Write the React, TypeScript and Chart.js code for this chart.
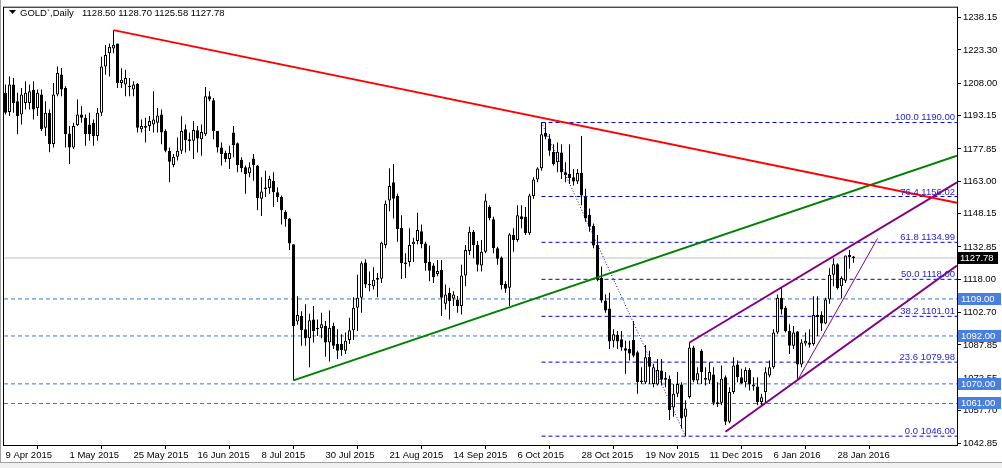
import React, { useEffect, useRef } from 'react';
import { Chart, registerables } from 'chart.js';
Chart.register(...registerables);

// ---- OHLC data (daily bars, 9 Apr 2015 .. 3 Feb 2016) ----
const opens = [
  1203.6, 1194.8, 1207.4, 1199.8, 1193.7, 1199.0, 1199.0, 1205.0, 1196.7, 1202.8,
  1187.6, 1194.5, 1180.1, 1202.8, 1212.0, 1205.8, 1185.0, 1178.5, 1188.7, 1193.7,
  1192.2, 1189.1, 1189.9, 1183.8, 1194.5, 1215.7, 1221.8, 1224.0, 1226.3, 1208.1,
  1207.4, 1206.9, 1205.1, 1207.8, 1186.9, 1187.6, 1188.4, 1189.1, 1189.9, 1193.7,
  1186.1, 1177.0, 1170.5, 1174.3, 1177.0, 1186.9, 1182.3, 1181.6, 1186.4, 1182.3,
  1184.6, 1202.0, 1200.2, 1186.1, 1178.5, 1176.0, 1173.2, 1185.4, 1180.5, 1172.9,
  1169.4, 1166.7, 1173.5, 1170.2, 1155.0, 1159.5, 1159.9, 1163.3, 1158.0, 1155.8,
  1149.0, 1145.9, 1134.1, 1098.6, 1101.2, 1095.1, 1091.0, 1099.6, 1095.8, 1095.5,
  1096.6, 1089.0, 1096.6, 1088.3, 1088.3, 1085.2, 1090.1, 1094.6, 1104.9, 1109.5,
  1125.7, 1115.9, 1114.8, 1118.6, 1118.3, 1133.8, 1154.2, 1162.6, 1156.2, 1141.7,
  1125.7, 1125.9, 1134.1, 1135.6, 1140.1, 1134.5, 1125.9, 1124.4, 1120.5, 1122.4,
  1106.8, 1111.8, 1109.2, 1108.7, 1105.7, 1119.8, 1131.0, 1139.8, 1133.8, 1124.4,
  1130.7, 1151.2, 1145.6, 1132.3, 1128.0, 1115.9, 1114.1, 1138.3, 1136.0, 1147.0,
  1146.7, 1139.1, 1156.2, 1163.8, 1169.0, 1185.3, 1182.6, 1176.6, 1171.7, 1176.2,
  1167.1, 1166.4, 1164.9, 1162.9, 1166.8, 1155.8, 1147.7, 1142.6, 1133.8, 1118.6,
  1108.3, 1104.6, 1089.8, 1092.5, 1090.5, 1086.4, 1086.0, 1090.1, 1084.5, 1071.6,
  1070.8, 1082.5, 1070.0, 1069.7, 1076.1, 1072.8, 1072.3, 1059.1, 1065.5, 1069.7,
  1054.9, 1064.0, 1086.7, 1071.6, 1085.2, 1072.8, 1071.6, 1074.3, 1061.6, 1061.3,
  1073.1, 1052.6, 1066.3, 1078.9, 1073.1, 1070.8, 1076.4, 1069.7, 1068.8, 1061.7,
  1066.3, 1073.8, 1077.6, 1093.6, 1109.5, 1104.9, 1094.3, 1087.5, 1094.0, 1078.9,
  1088.5, 1089.0, 1088.3, 1101.6, 1101.6, 1097.7, 1108.7, 1120.1, 1124.9, 1114.8,
  1117.4, 1128.2, 1128.5,
];
const highs = [
  1207.4, 1211.1, 1210.4, 1203.6, 1205.8, 1208.9, 1207.4, 1208.9, 1205.1, 1205.1,
  1199.8, 1196.0, 1208.1, 1215.7, 1215.0, 1206.6, 1188.4, 1189.9, 1200.6, 1197.5,
  1193.7, 1194.5, 1191.4, 1196.7, 1220.2, 1225.6, 1226.3, 1232.4, 1226.3, 1214.9,
  1214.2, 1210.4, 1208.9, 1208.1, 1191.4, 1192.2, 1193.0, 1204.3, 1196.7, 1196.0,
  1186.9, 1178.5, 1175.5, 1183.1, 1192.9, 1189.1, 1185.4, 1190.7, 1188.4, 1189.1,
  1206.3, 1204.3, 1201.3, 1186.1, 1180.8, 1177.0, 1179.3, 1188.4, 1180.8, 1174.0,
  1170.2, 1171.7, 1175.5, 1170.5, 1164.9, 1167.9, 1165.6, 1167.1, 1160.3, 1156.5,
  1149.7, 1146.2, 1134.1, 1110.2, 1103.4, 1106.5, 1102.2, 1105.7, 1099.6, 1102.7,
  1098.9, 1103.7, 1098.1, 1095.1, 1092.8, 1093.6, 1100.4, 1109.8, 1120.1, 1126.2,
  1127.2, 1121.6, 1123.5, 1120.9, 1135.3, 1154.2, 1169.0, 1170.9, 1157.3, 1147.4,
  1130.0, 1141.4, 1137.1, 1148.6, 1143.2, 1135.3, 1133.5, 1125.4, 1126.9, 1126.9,
  1115.6, 1114.1, 1112.5, 1110.3, 1124.7, 1133.8, 1142.1, 1140.6, 1135.6, 1136.0,
  1157.3, 1152.0, 1146.7, 1133.0, 1128.5, 1117.1, 1139.1, 1141.4, 1152.0, 1152.0,
  1151.2, 1157.3, 1164.9, 1169.4, 1190.0, 1189.9, 1184.6, 1180.0, 1180.8, 1180.0,
  1171.7, 1180.0, 1168.7, 1168.7, 1183.8, 1159.6, 1150.5, 1143.6, 1138.3, 1123.9,
  1111.0, 1111.8, 1095.1, 1094.3, 1094.3, 1089.8, 1089.8, 1098.9, 1085.2, 1077.6,
  1087.9, 1085.2, 1079.2, 1081.4, 1081.4, 1075.4, 1073.8, 1070.0, 1075.4, 1070.8,
  1062.5, 1089.0, 1087.5, 1077.6, 1085.9, 1077.6, 1079.9, 1077.6, 1070.8, 1078.4,
  1073.8, 1068.5, 1082.2, 1080.7, 1076.9, 1077.6, 1077.3, 1073.1, 1073.1, 1065.5,
  1077.6, 1080.7, 1095.1, 1111.0, 1114.1, 1105.7, 1097.4, 1096.6, 1094.3, 1090.5,
  1093.6, 1095.1, 1110.2, 1110.2, 1103.4, 1109.5, 1123.1, 1127.7, 1125.4, 1119.4,
  1128.9, 1131.5, 1128.7,
];
const lows = [
  1193.7, 1193.0, 1194.5, 1184.6, 1189.1, 1196.0, 1196.0, 1191.4, 1193.0, 1186.1,
  1183.8, 1176.3, 1178.5, 1202.1, 1202.1, 1178.5, 1171.0, 1177.8, 1188.4, 1189.9,
  1179.3, 1181.6, 1179.3, 1181.6, 1193.0, 1211.9, 1211.1, 1221.8, 1205.8, 1205.8,
  1202.1, 1202.1, 1202.1, 1185.4, 1185.4, 1180.8, 1186.1, 1185.4, 1185.4, 1180.0,
  1176.3, 1162.6, 1169.4, 1172.5, 1175.5, 1176.2, 1177.0, 1173.2, 1176.2, 1174.7,
  1183.8, 1199.8, 1182.3, 1176.2, 1170.2, 1171.7, 1168.7, 1174.0, 1167.1, 1167.1,
  1157.3, 1164.9, 1163.3, 1149.7, 1147.1, 1155.8, 1157.3, 1151.2, 1153.5, 1143.2,
  1142.1, 1131.5, 1071.6, 1097.1, 1087.5, 1087.5, 1077.6, 1089.0, 1092.0, 1091.0,
  1082.5, 1080.3, 1086.0, 1081.4, 1082.9, 1083.7, 1088.3, 1090.1, 1094.3, 1102.7,
  1114.0, 1112.5, 1113.3, 1109.8, 1116.3, 1132.3, 1149.2, 1145.9, 1135.3, 1118.3,
  1118.6, 1123.9, 1125.9, 1134.1, 1132.3, 1121.9, 1117.1, 1116.3, 1119.4, 1101.2,
  1104.2, 1099.6, 1105.7, 1102.7, 1101.9, 1114.8, 1129.2, 1127.7, 1121.6, 1121.6,
  1130.0, 1145.1, 1130.0, 1124.7, 1113.3, 1111.8, 1105.7, 1130.7, 1135.3, 1141.4,
  1138.3, 1138.3, 1155.0, 1162.6, 1167.9, 1182.3, 1174.7, 1170.2, 1167.1, 1164.1,
  1162.6, 1161.8, 1161.1, 1161.8, 1152.0, 1144.4, 1139.8, 1132.3, 1117.1, 1107.2,
  1102.7, 1086.0, 1086.7, 1086.0, 1085.2, 1074.6, 1080.7, 1082.2, 1065.5, 1070.0,
  1070.0, 1070.0, 1068.5, 1069.3, 1069.3, 1068.5, 1053.4, 1054.9, 1064.0, 1049.6,
  1046.0, 1063.3, 1070.8, 1070.0, 1070.0, 1069.3, 1070.0, 1060.2, 1059.4, 1060.2,
  1051.1, 1051.9, 1065.5, 1070.8, 1070.0, 1068.5, 1067.0, 1067.0, 1060.2, 1059.4,
  1061.7, 1073.1, 1076.9, 1092.8, 1101.9, 1093.6, 1083.7, 1086.0, 1072.3, 1077.6,
  1087.5, 1086.7, 1087.5, 1092.0, 1094.3, 1097.4, 1106.8, 1114.8, 1113.3, 1109.2,
  1116.3, 1122.8, 1125.58,
];
const closes = [
  1194.5, 1207.4, 1199.0, 1193.0, 1202.8, 1203.6, 1204.3, 1196.0, 1203.6, 1186.9,
  1194.5, 1180.1, 1202.8, 1212.7, 1205.1, 1184.6, 1178.5, 1188.4, 1193.7, 1192.2,
  1184.6, 1184.6, 1183.8, 1194.5, 1215.7, 1221.0, 1224.8, 1225.6, 1208.1, 1209.6,
  1210.4, 1206.3, 1207.4, 1187.6, 1188.4, 1188.4, 1190.7, 1191.4, 1193.2, 1185.4,
  1177.0, 1172.0, 1174.3, 1177.0, 1186.1, 1181.9, 1181.4, 1186.5, 1182.6, 1185.6,
  1202.0, 1200.5, 1186.1, 1178.5, 1175.5, 1173.2, 1176.0, 1179.6, 1170.5, 1169.0,
  1166.4, 1169.4, 1170.5, 1155.3, 1158.3, 1160.1, 1164.1, 1158.0, 1155.8, 1149.7,
  1145.6, 1134.5, 1096.6, 1101.6, 1094.6, 1091.0, 1099.2, 1094.3, 1095.1, 1097.4,
  1089.0, 1095.8, 1087.5, 1085.2, 1085.5, 1089.8, 1094.6, 1104.9, 1109.5, 1125.4,
  1115.6, 1115.3, 1117.8, 1117.8, 1134.8, 1152.7, 1160.8, 1155.0, 1141.1, 1125.4,
  1125.0, 1133.8, 1135.3, 1140.6, 1134.1, 1125.4, 1121.9, 1118.9, 1121.8, 1109.5,
  1111.0, 1108.0, 1111.0, 1105.7, 1119.8, 1131.5, 1139.8, 1133.8, 1124.7, 1130.7,
  1154.2, 1146.2, 1132.3, 1127.4, 1115.3, 1113.7, 1138.6, 1136.0, 1147.4, 1145.6,
  1139.1, 1156.5, 1163.8, 1168.9, 1184.6, 1183.4, 1177.0, 1170.9, 1176.6, 1167.1,
  1165.9, 1164.4, 1162.9, 1166.8, 1156.5, 1145.9, 1142.1, 1133.5, 1117.8, 1108.3,
  1103.7, 1089.5, 1092.8, 1089.5, 1086.7, 1085.2, 1084.0, 1082.9, 1070.8, 1070.8,
  1082.2, 1077.9, 1077.6, 1076.4, 1071.9, 1071.9, 1057.9, 1065.5, 1070.0, 1054.1,
  1058.7, 1086.7, 1071.6, 1074.9, 1075.4, 1071.9, 1075.4, 1061.3, 1060.6, 1072.3,
  1052.6, 1066.3, 1078.4, 1073.1, 1070.3, 1076.4, 1069.7, 1068.8, 1061.7, 1063.9,
  1075.3, 1077.6, 1093.6, 1109.5, 1104.2, 1094.3, 1087.5, 1093.6, 1078.9, 1089.0,
  1089.8, 1088.0, 1101.6, 1100.7, 1097.7, 1108.7, 1120.1, 1124.9, 1114.05, 1118.6,
  1128.9, 1129.2, 1127.78,
];

// ---- axes ----
const xTickIdx = [0, 16, 32, 48, 64, 80, 96, 112, 128, 144, 160, 176, 192, 208];
const xTickLabels = [
  '9 Apr 2015', '1 May 2015', '25 May 2015', '16 Jun 2015', '8 Jul 2015', '30 Jul 2015',
  '21 Aug 2015', '14 Sep 2015', '6 Oct 2015', '28 Oct 2015', '19 Nov 2015', '11 Dec 2015',
  '6 Jan 2016', '28 Jan 2016',
];
const yTickValues = [
  1238.15, 1223.3, 1208.0, 1193.15, 1177.85, 1163.0, 1148.15, 1132.85, 1118.0,
  1102.7, 1087.85, 1072.55, 1057.7, 1042.85,
];
const X_MIN = -0.375;
const X_MAX = 237.875;
const Y_MIN = 1041.94;
const Y_MAX = 1242.7;

// ---- drawn objects ----
const redTrend = [[27, 1232.4], [X_MAX, 1153.1]];
const greenTrend = [[72, 1071.6], [X_MAX, 1174.7]];
const purpleUpper = [[171, 1089.0], [X_MAX, 1162.5]];
const purpleLower = [[180, 1048.0], [X_MAX, 1124.3]];
const purpleThin = [[198, 1071.6], [218, 1136.8]];
const fibDiagonal = [[134, 1190.0], [170, 1046.0]];
const fibStart = 134;
const fibPercents = ['100.0', '76.4', '61.8', '50.0', '38.2', '23.6', '0.0'];
const fibValues = [1190.0, 1156.02, 1134.99, 1118.0, 1101.01, 1079.98, 1046.0];
const hLevels = [1109.0, 1092.0, 1070.0, 1061.0];
const lastPrice = 1127.78;
const titleSymbol = 'GOLD`,Daily';
const titleOHLC = '1128.50 1128.70 1125.58 1127.78';

const FONT = '"Liberation Sans", Arial, sans-serif';

const pts = (arr: number[][]) => arr.map(([x, y]) => ({ x, y }));

export default function App() {
  const ref = useRef<HTMLCanvasElement>(null);

  useEffect(() => {
    const canvas = ref.current;
    if (!canvas) return;
    const idx = opens.map((_, i) => i);

    const lineDs = (data: { x: number; y: number }[], color: string, width: number, dash: number[], order: number) => ({
      type: 'line' as const,
      data,
      borderColor: color,
      borderWidth: width,
      borderDash: dash,
      pointRadius: 0,
      fill: false,
      tension: 0,
      order,
    });

    const datasets: any[] = [];
    // background horizontal levels
    hLevels.forEach((v) => datasets.push(lineDs(pts([[X_MIN, v], [X_MAX, v]]), '#3d6fe0', 1, [4, 3], 5)));
    datasets.push(lineDs(pts([[X_MIN, lastPrice], [X_MAX, lastPrice]]), '#c0c0c0', 1, [], 5));
    fibValues.forEach((v) => datasets.push(lineDs(pts([[fibStart, v], [X_MAX, v]]), '#0000dd', 1, [4, 3], 5)));
    // wicks
    datasets.push({
      type: 'bar',
      data: idx.map((i) => ({ x: i, y: [lows[i], highs[i]] })),
      backgroundColor: '#000000',
      borderWidth: 0,
      barThickness: 1,
      grouped: false,
      inflateAmount: 0,
      order: 3,
    });
    // bodies
    datasets.push({
      type: 'bar',
      data: idx.map((i) => ({ x: i, y: [opens[i], closes[i]] })),
      backgroundColor: idx.map((i) => (closes[i] >= opens[i] ? '#ffffff' : '#000000')),
      borderColor: '#000000',
      borderWidth: 1,
      borderSkipped: false,
      barThickness: 3,
      minBarLength: 1,
      grouped: false,
      inflateAmount: 0,
      order: 2,
    });
    // trend objects
    datasets.push(lineDs(pts(fibDiagonal), '#0000ff', 1, [1, 2], 1));
    datasets.push(lineDs(pts(redTrend), '#ff0000', 2, [], 0));
    datasets.push(lineDs(pts(greenTrend), '#008000', 2, [], 0));
    datasets.push(lineDs(pts(purpleUpper), '#800080', 2, [], 0));
    datasets.push(lineDs(pts(purpleLower), '#800080', 2, [], 0));
    datasets.push(lineDs(pts(purpleThin), '#800080', 1, [], 0));

    const overlay = {
      id: 'overlay',
      afterDraw(chart: any) {
        const { ctx, chartArea, scales } = chart;
        const y = scales.y;
        ctx.save();
        // outer window frame
        ctx.fillStyle = '#f0f0f0';
        ctx.fillRect(0, 463, 1002, 5);
        ctx.fillStyle = '#a0a0a0';
        ctx.fillRect(0, 462, 1002, 1);
        ctx.fillRect(0, 0, 1, 463);
        // plot frame
        ctx.strokeStyle = '#000';
        ctx.lineWidth = 1;
        ctx.strokeRect(chartArea.left - 0.5, chartArea.top - 0.5, chartArea.right - chartArea.left + 1, chartArea.bottom - chartArea.top + 1);
        // title
        ctx.fillStyle = '#000';
        ctx.beginPath();
        ctx.moveTo(9, 10);
        ctx.lineTo(16, 10);
        ctx.lineTo(12.5, 14);
        ctx.closePath();
        ctx.fill();
        ctx.font = '9.5px ' + FONT;
        ctx.textBaseline = 'middle';
        ctx.textAlign = 'left';
        ctx.fillText(titleSymbol, 20, 13);
        ctx.fillText(titleOHLC, 82, 13);
        // fib labels
        ctx.fillStyle = '#2424d8';
        ctx.textAlign = 'right';
        ctx.textBaseline = 'alphabetic';
        fibValues.forEach((v, i) => {
          const py = y.getPixelForValue(v);
          ctx.fillText(fibPercents[i] + ' ' + v.toFixed(2), chartArea.right - 2, py - 2);
        });
        // right price boxes
        ctx.textAlign = 'left';
        ctx.textBaseline = 'middle';
        hLevels.forEach((v) => {
          const py = Math.round(y.getPixelForValue(v));
          ctx.fillStyle = '#4a7fe2';
          ctx.fillRect(chartArea.right + 1, py - 6, 43, 12);
          ctx.fillStyle = '#ffffff';
          ctx.fillText(v.toFixed(2), chartArea.right + 4, py);
        });
        const lp = Math.round(y.getPixelForValue(lastPrice));
        ctx.fillStyle = '#000000';
        ctx.fillRect(chartArea.right, lp - 6, 41, 12);
        ctx.fillStyle = '#ffffff';
        ctx.fillText(lastPrice.toFixed(2), chartArea.right + 3, lp);
        ctx.restore();
      },
    };

    const chart = new Chart(canvas, {
      type: 'bar',
      data: { datasets },
      options: {
        responsive: false,
        animation: false,
        devicePixelRatio: 1,
        events: [],
        layout: { padding: { left: 4, top: 4, right: 0, bottom: 0 } },
        plugins: {
          legend: { display: false },
          tooltip: { enabled: false },
          title: { display: false },
        },
        scales: {
          x: {
            type: 'linear',
            min: X_MIN,
            max: X_MAX,
            offset: false,
            bounds: 'data',
            afterBuildTicks: (s: any) => {
              s.ticks = xTickIdx.map((v) => ({ value: v }));
            },
            afterFit: (s: any) => {
              s.height = 23;
            },
            ticks: {
              autoSkip: false,
              maxRotation: 0,
              minRotation: 0,
              align: 'start',
              padding: 1,
              color: '#000',
              font: { family: FONT, size: 9.5 },
              callback: (_v: any, i: number) => xTickLabels[i],
            },
            grid: { display: true, drawOnChartArea: false, drawTicks: true, tickLength: 4, color: '#000', lineWidth: 1 },
            border: { display: false },
          },
          y: {
            type: 'linear',
            position: 'right',
            min: Y_MIN,
            max: Y_MAX,
            bounds: 'data',
            afterBuildTicks: (s: any) => {
              s.ticks = yTickValues.map((v) => ({ value: v }));
            },
            afterFit: (s: any) => {
              s.width = 45;
            },
            ticks: {
              autoSkip: false,
              padding: 2,
              color: '#000',
              font: { family: FONT, size: 9.5 },
              callback: (v: any) => Number(v).toFixed(2),
            },
            grid: { display: true, drawOnChartArea: false, drawTicks: true, tickLength: 4, color: '#000', lineWidth: 1 },
            border: { display: false },
          },
        },
      } as any,
      plugins: [overlay],
    });
    return () => chart.destroy();
  }, []);

  return (
    <div style={{ position: 'fixed', left: 0, top: 0, width: 1002, height: 468, background: '#ffffff' }}>
      <canvas ref={ref} width={1002} height={468} style={{ display: 'block', width: 1002, height: 468 }} />
    </div>
  );
}
